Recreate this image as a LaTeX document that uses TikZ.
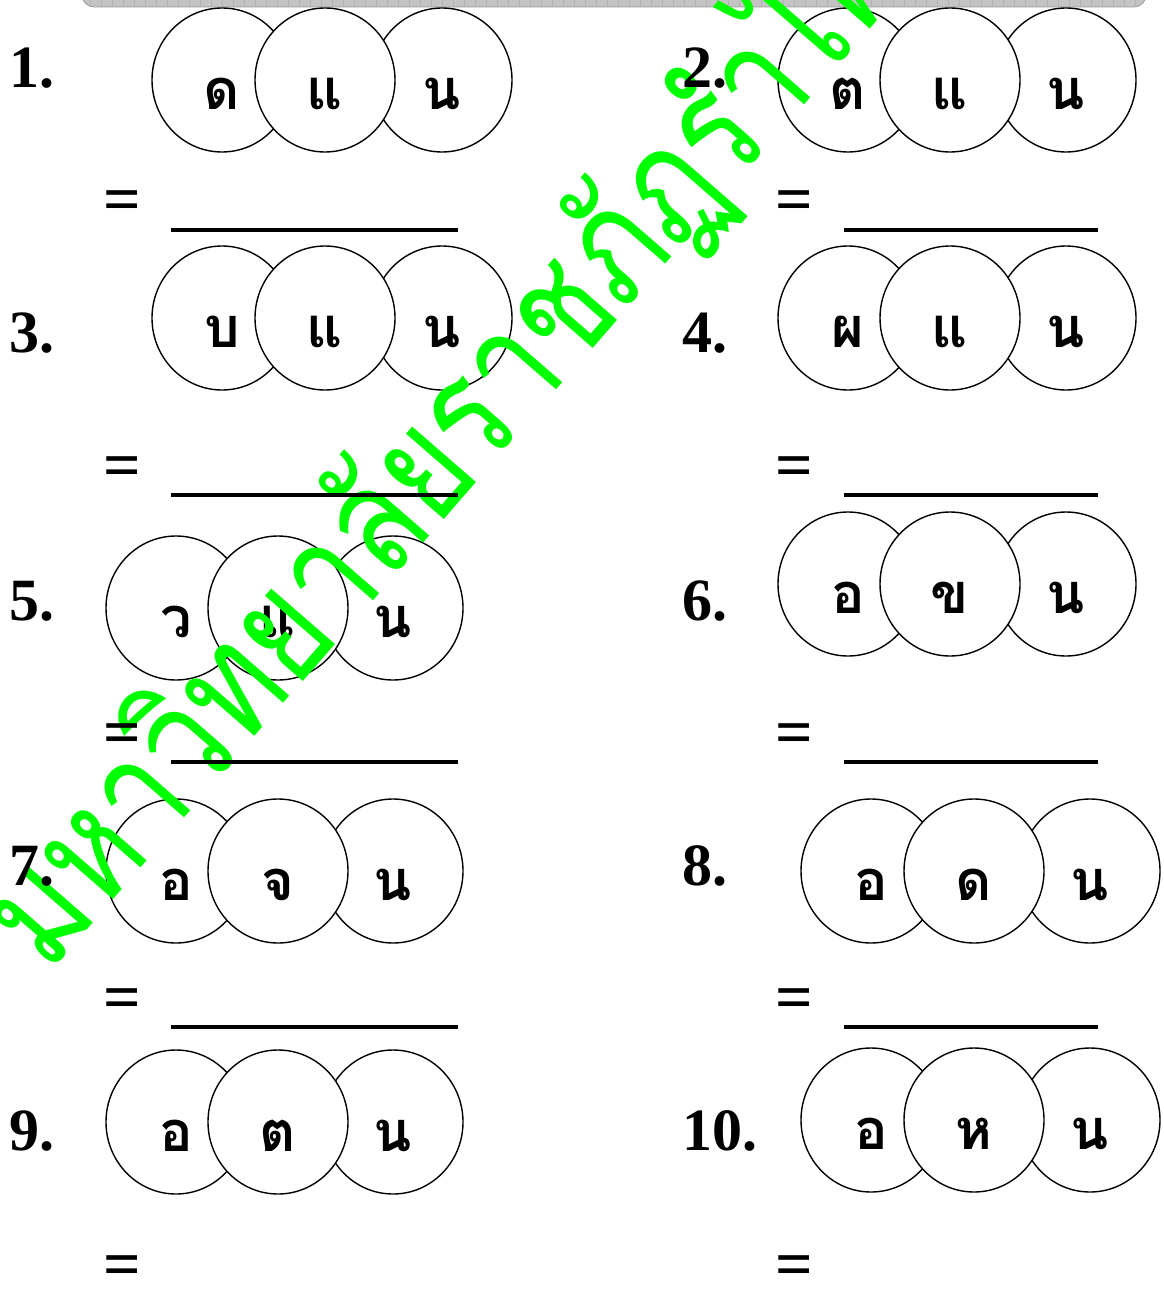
\documentclass[tikz,border=0pt]{standalone}
\usepackage{fontspec}
\setmainfont{Liberation Serif}
\newfontfamily\thaifont[Script=Thai]{Loma}
\usetikzlibrary{shapes.geometric}
\definecolor{wmgreen}{RGB}{0,255,0}
\definecolor{bannergray}{RGB}{196,196,196}
\tikzset{
  cir/.style={ellipse, draw=black, line width=1.4pt, fill=white, minimum width=140pt, minimum height=144pt, inner sep=0pt},
  thl/.style={font=\thaifont\bfseries\fontsize{56}{60}\selectfont, inner sep=0pt, anchor=center},
  num/.style={font=\bfseries\fontsize{60}{64}\selectfont, inner sep=0pt, anchor=base west},
  eqs/.style={font=\bfseries\fontsize{66}{70}\selectfont, inner sep=0pt, anchor=base},
  ansline/.style={line width=4.5pt},
  wmark/.style={font=\thaifont\fontsize{152}{154}\selectfont, text=wmgreen, inner sep=0pt, anchor=base west, rotate=49}
}
\newcommand\trio[8]{%
  \node[cir] (#1a) at (#2,#5) {};
  \node[cir] (#1c) at (#4,#5) {};
  \node[cir] (#1b) at (#3,#5) {};
  \node[thl] (#1la) at ([yshift=-14pt]#1a.center) {#6};
  \node[thl] (#1lb) at ([yshift=-14pt]#1b.center) {#7};
  \node[thl] (#1lc) at ([yshift=-14pt]#1c.center) {#8};
}
\begin{document}
\begin{tikzpicture}[x=1pt,y=-1pt]
\useasboundingbox (0,0) rectangle (1163,1292);
\fill[white] (0,0) rectangle (1163,1292);
% banner
\begin{scope}
  \clip (0,0) rectangle (1163,1292);
  \path[fill=bannergray, draw=gray!80, line width=0.8pt, rounded corners=12pt] (82,-30) rectangle (1146,7);
  \begin{scope}
    \clip[rounded corners=12pt] (82,-30) rectangle (1146,7);
    \foreach \x in {90,101,...,1146} \draw[gray!60, line width=0.5pt] (\x,0) -- (\x,7);
  \end{scope}
\end{scope}
% circles
\trio{p1}{222}{325}{442}{80}{ด}{แ}{น}
\trio{p2}{848}{950}{1066}{80}{ต}{แ}{น}
\trio{p3}{222}{325}{442}{318}{บ}{แ}{น}
\trio{p4}{848}{950}{1066}{318}{ผ}{แ}{น}
\trio{p5}{176}{278}{393}{608}{ว}{แ}{น}
\trio{p6}{848}{950}{1066}{584}{อ}{ข}{น}
\trio{p7}{176}{278}{393}{871}{อ}{จ}{น}
\trio{p8}{871}{974}{1090}{871}{อ}{ด}{น}
\trio{p9}{176}{278}{393}{1122}{อ}{ต}{น}
\trio{p10}{871}{974}{1090}{1120}{อ}{ห}{น}
% watermark
\begin{scope}
  \clip (0,0) rectangle (1163,1292);
  \node[wmark] (wm) at (48,975) {\scalebox{0.8}[1]{มหาวิทยาลัยราชภัฏรำไพพรรณี}};
\end{scope}
% numbers
\node[num] (n1) at (9,88) {1.};
\node[num] (n2) at (682,88) {2.};
\node[num] (n3) at (9,352) {3.};
\node[num] (n4) at (682,352) {4.};
\node[num] (n5) at (9,620) {5.};
\node[num] (n6) at (682,620) {6.};
\node[num] (n7) at (9,885) {7.};
\node[num] (n8) at (682,885) {8.};
\node[num] (n9) at (9,1150) {9.};
\node[num] (n10) at (682,1150) {10.};
% equals signs
\foreach \r/\y in {1/197,2/463,3/730,4/995,5/1262}{
  \node[eqs] (eL\r) at (122,\y+24) {=};
  \node[eqs] (eR\r) at (794,\y+24) {=};
}
% answer lines
\foreach \r/\y in {1/230,2/495,3/762,4/1027}{
  \coordinate (aL\r s) at (171,\y);
  \coordinate (aL\r e) at (458,\y);
  \coordinate (aR\r s) at (844,\y);
  \coordinate (aR\r e) at (1098,\y);
  \draw[ansline] (aL\r s) -- (aL\r e);
  \draw[ansline] (aR\r s) -- (aR\r e);
}
\end{tikzpicture}
\end{document}
